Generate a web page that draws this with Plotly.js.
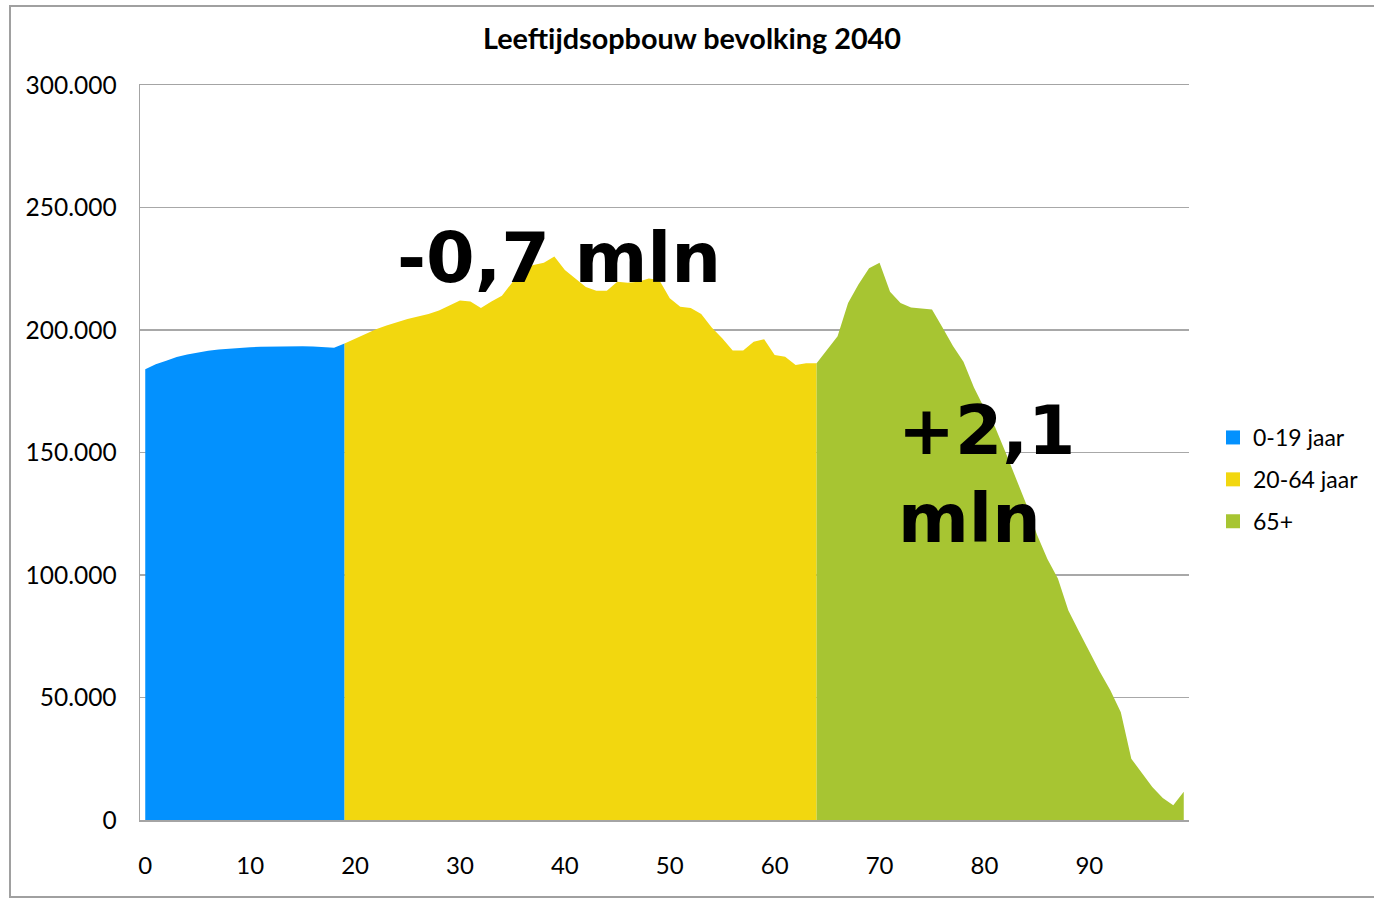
<!DOCTYPE html>
<html>
<head>
<meta charset="utf-8">
<script src="https://cdn.plot.ly/plotly-3.0.1.min.js"></script>
<style>
  html, body { margin: 0; padding: 0; background: #fff; overflow: hidden; }
  #chart { width: 1374px; height: 900px; }
</style>
</head>
<body>
<div id="chart"></div>
<script>
// Population per year of age (2040)
const groupNames = ['0-19 jaar', '20-64 jaar', '65+'];
const groupColors = ['#0391fe', '#f2d70f', '#a7c532'];

const youngStart = 0;     // ages 0..19
const young = [184000, 186000, 187500, 189000, 190000, 190800, 191500, 192000, 192400, 192800,
               193000, 193200, 193300, 193400, 193400, 193400, 193300, 193000, 192800, 194500];

const workingStart = 20;  // ages 20..64
const working = [196500, 198500, 200300, 201800, 203300, 204500, 205500, 206500, 208000, 210000,
                 212000, 211600, 209000, 211600, 214000, 219500, 224500, 226500, 227500, 230000,
                 224500, 221000, 217600, 216000, 216000, 219700, 219300, 219700, 221000, 220400,
                 213000, 209500, 209000, 206500, 201000, 196600, 191600, 191600, 195200, 196200,
                 189800, 189100, 185700, 186400, 186400];

const elderlyStart = 65;  // ages 65..99
const elderly = [192000, 197500, 211000, 218700, 225200, 227500, 215600, 211000, 209200, 208900,
                 208400, 201000, 193500, 187000, 176500, 168000, 160500, 150200, 139400, 128800,
                 116500, 106500, 98600, 85500, 77000, 68500, 60500, 53000, 44000, 25000,
                 19000, 13500, 9000, 6000, 11500];

const xTicks = [0, 10, 20, 30, 40, 50, 60, 70, 80, 90];
const yTicks = [0, 50000, 100000, 150000, 200000, 250000, 300000];

const titleText = 'Leeftijdsopbouw bevolking 2040';
const labelWorking = '-0,7 mln';
const labelElderly = '+2,1<br>mln';

function ages(start, n) { return Array.from({length: n}, (_, i) => start + i); }

// Each area starts at the last age of the previous group so the areas join
const xs = [
  ages(youngStart, young.length),
  [youngStart + young.length - 1].concat(ages(workingStart, working.length)),
  [workingStart + working.length - 1].concat(ages(elderlyStart, elderly.length))
];
const ys = [
  young,
  [young[young.length - 1]].concat(working),
  [working[working.length - 1]].concat(elderly)
];

const traces = [];
for (let i = 0; i < 3; i++) {
  traces.push({
    type: 'scatter', mode: 'lines', x: xs[i], y: ys[i],
    fill: 'tozeroy', fillcolor: groupColors[i],
    line: {width: 0, color: groupColors[i]},
    showlegend: false, hoverinfo: 'x+y'
  });
}
for (let i = 0; i < 3; i++) {
  traces.push({
    type: 'scatter', mode: 'markers', x: [null], y: [null],
    name: groupNames[i], legendgroup: 'g' + i,
    marker: {symbol: 'square', size: 14, color: groupColors[i]},
    showlegend: true
  });
}

const W = 1374, H = 900;
const L = 140, R = 185, T = 85, B = 80;
const pw = W - L - R, ph = H - T - B;
function px2paperX(p) { return (p - L) / pw; }
function px2paperY(p) { return (H - B - p) / ph; }

const font = 'Lato, "Open Sans", sans-serif';

const layout = {
  width: W, height: H,
  margin: {l: L, r: R, t: T, b: B, pad: 0, autoexpand: false},
  paper_bgcolor: '#fff', plot_bgcolor: '#fff',
  separators: ',.',
  font: {family: font, size: 24, color: '#000'},
  title: {
    text: '<b>' + titleText + '</b>',
    font: {family: font, size: 28.8, color: '#000'},
    x: 692 / W, xref: 'container', xanchor: 'center',
    y: 1 - 39 / H, yref: 'container', yanchor: 'middle'
  },
  xaxis: {
    range: [-0.5, 99.5], tickvals: xTicks, ticktext: xTicks.map(String),
    showgrid: false, zeroline: false, showline: true, mirror: true,
    linecolor: '#a4a4a4', linewidth: 1.5, ticks: '',
    ticklabelstandoff: 24, tickfont: {family: font, size: 24, color: '#000'}
  },
  yaxis: {
    range: [0, 300000], tickvals: yTicks, tickformat: ',d',
    showgrid: true, gridcolor: '#a8a8a8', gridwidth: 1.5,
    zeroline: false, showline: true, linecolor: '#a4a4a4', linewidth: 1.5,
    ticks: '', ticklabelstandoff: 17,
    tickfont: {family: font, size: 24.5, color: '#000'}
  },
  legend: {
    x: px2paperX(1213), xanchor: 'left', y: px2paperY(416), yanchor: 'top',
    font: {family: font, size: 23, color: '#000'},
    tracegroupgap: 9, itemwidth: 30, bgcolor: 'rgba(0,0,0,0)'
  },
  annotations: [
    {text: '<b>' + labelWorking + '</b>', x: px2paperX(559), y: px2paperY(258),
     xref: 'paper', yref: 'paper', xanchor: 'center', yanchor: 'middle', showarrow: false,
     font: {family: '"DejaVu Sans", Verdana, sans-serif', size: 70, color: '#000'}},
    {text: '<b>' + labelElderly + '</b>', x: px2paperX(896), y: px2paperY(474),
     xref: 'paper', yref: 'paper', xanchor: 'left', yanchor: 'middle', align: 'left', showarrow: false,
     font: {family: '"DejaVu Sans", Verdana, sans-serif', size: 68, color: '#000'}}
  ],
  shapes: [
    {type: 'rect', xref: 'paper', yref: 'paper',
     x0: px2paperX(10), x1: px2paperX(1380), y0: px2paperY(897), y1: px2paperY(6),
     line: {color: '#a0a0a0', width: 2}, fillcolor: 'rgba(0,0,0,0)', layer: 'below'}
  ]
};

Plotly.newPlot('chart', traces, layout, {displayModeBar: false, staticPlot: true});
</script>
</body>
</html>
